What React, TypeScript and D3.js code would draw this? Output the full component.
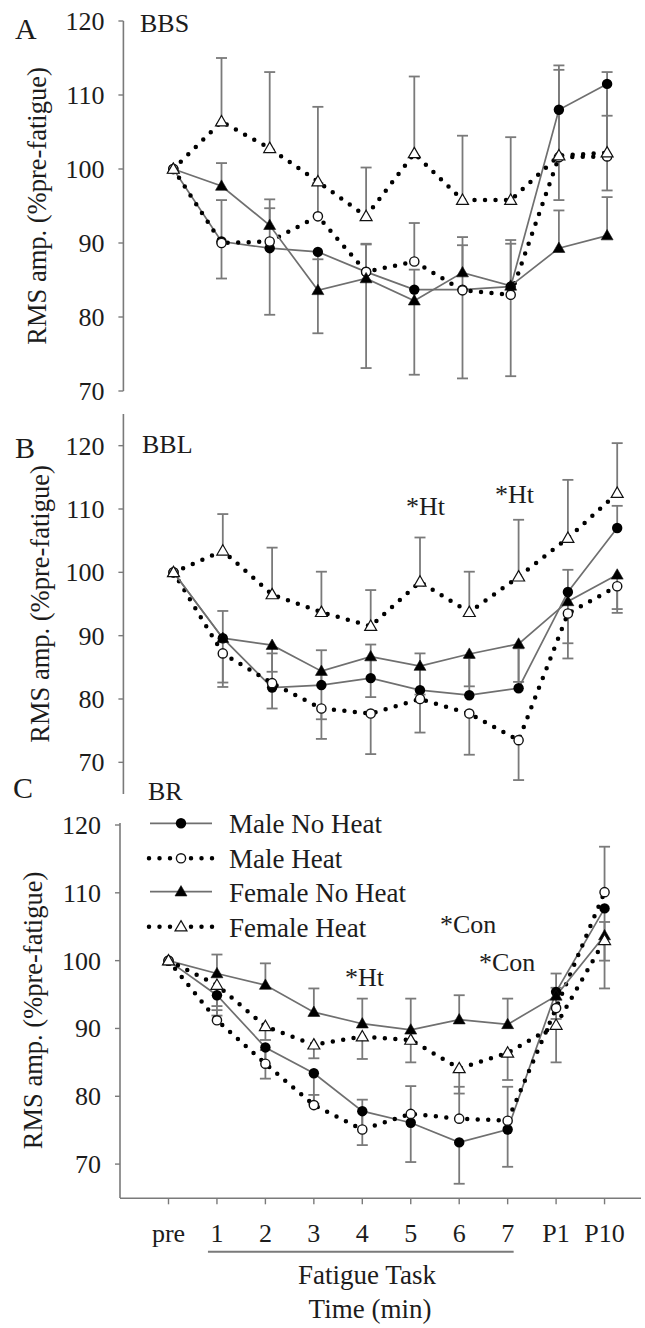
import React from "react";
import * as d3 from "d3";

const categories = ["pre", "1", "2", "3", "4", "5", "6", "7", "P1", "P10"];
const seriesNames = ["Male No Heat", "Male Heat", "Female No Heat", "Female Heat"];
const yTicks = [70, 80, 90, 100, 110, 120];

// Panel A (BBS)
const aMaleNoHeat = [100, 90.2, 89.3, 88.8, 86.1, 83.7, 83.7, 84.1, 108.0, 111.5];
const aMaleNoHeatErr = [0, 5.0, 9.0, 11.0, 13.0, 11.5, 12.0, 12.1, 12.2, 14.4];
const aMaleHeat = [100, 90.0, 90.2, 93.6, 86.1, 87.5, 83.6, 83.0, 101.6, 101.7];
const aMaleHeatErr = [0, 5.8, 4.5, 4.5, 3.8, 5.2, 7.2, 7.4, 11.8, 5.5];
const aFemaleNoHeat = [100, 97.7, 92.4, 83.6, 85.2, 82.2, 86.0, 84.2, 89.3, 91.0];
const aFemaleNoHeatErr = [0, 3.1, 3.5, 4.2, 4.6, 4.2, 3.7, 5.7, 5.1, 5.2];
const aFemaleHeat = [100, 106.4, 102.8, 98.3, 93.6, 102.1, 95.8, 95.8, 101.8, 102.2];
const aFemaleHeatErr = [0, 8.6, 10.3, 10.1, 6.6, 10.4, 8.7, 8.5, 12.2, 10.9];
const aErrDir = [-1, 1, 1, 1];

// Panel B (BBL)
const bMaleNoHeat = [100, 89.6, 81.8, 82.2, 83.3, 81.4, 80.6, 81.7, 96.9, 107.0];
const bMaleNoHeatErr = [0, 4.3, 5.4, 5.5, 5.3, 5.8, 5.9, 6.3, 3.5, 3.5];
const bMaleHeat = [100, 87.2, 82.5, 78.5, 77.7, 80.0, 77.7, 73.5, 93.5, 97.8];
const bMaleHeatErr = [0, 5.3, 4.0, 4.8, 6.4, 5.3, 6.5, 6.3, 7.1, 4.2];
const bFemaleNoHeat = [100, 89.6, 88.5, 84.4, 86.7, 85.2, 87.1, 88.7, 95.4, 99.6];
const bFemaleNoHeatErr = [0, 7.0, 4.2, 7.6, 6.4, 4.5, 5.1, 6.0, 6.6, 5.4];
const bFemaleHeat = [100, 103.4, 96.5, 93.7, 91.5, 98.5, 93.7, 99.3, 105.4, 112.5];
const bFemaleHeatErr = [0, 5.8, 7.4, 6.4, 5.7, 7.0, 6.4, 9.0, 9.2, 7.9];
const bErrDir = [1, -1, -1, 1];

// Panel C (BR)
const cMaleNoHeat = [100, 94.9, 87.2, 83.4, 77.8, 76.1, 73.2, 75.1, 95.4, 107.7];
const cMaleNoHeatErr = [0, 3.0, 4.6, 4.5, 5.0, 5.8, 6.1, 5.5, 4.0, 7.7];
const cMaleHeat = [100, 91.2, 84.8, 78.7, 75.1, 77.4, 76.7, 76.4, 93.0, 110.1];
const cMaleHeatErr = [0, 1.5, 2.0, 1.5, 4.4, 4.1, 4.7, 5.0, 3.0, 6.7];
const cFemaleNoHeat = [100, 98.1, 96.4, 92.4, 90.7, 89.8, 91.3, 90.6, 94.8, 103.7];
const cFemaleNoHeatErr = [0, 2.8, 3.2, 3.5, 3.7, 4.6, 3.6, 3.8, 3.3, 2.0];
const cFemaleHeat = [100, 96.4, 90.3, 87.6, 88.8, 88.3, 84.1, 86.4, 90.5, 103.0];
const cFemaleHeatErr = [0, 3.1, 2.0, 2.0, 3.3, 3.3, 3.7, 4.0, 5.5, 7.1];
const cErrDir = [-1, 1, 1, -1];

const FONT = "'Liberation Serif', 'Times New Roman', serif";
const TEXT = "#1c1c1c";
const GRAY = "#7a7a7a";

const seriesStyle = [
  { dotted: false, marker: "circle", filled: true },
  { dotted: true, marker: "circle", filled: false },
  { dotted: false, marker: "triangle", filled: true },
  { dotted: true, marker: "triangle", filled: false },
];

const panels = [
  {
    letter: "A", title: "BBS", domain: [70, 120], range: [391, 21], axisX: 123.4,
    axisTop: 120, axisBottom: 70, x0: 173.3, step: 48.2,
    data: [aMaleNoHeat, aMaleHeat, aFemaleNoHeat, aFemaleHeat],
    err: [aMaleNoHeatErr, aMaleHeatErr, aFemaleNoHeatErr, aFemaleHeatErr],
    dir: aErrDir, letterPos: [15, 39], titlePos: [140, 32], labelX: 46,
    notes: [] as { t: string; x: number; y: number }[],
  },
  {
    letter: "B", title: "BBL", domain: [65, 125], range: [794, 414], axisX: 123.4,
    axisTop: 125, axisBottom: 65, x0: 173.5, step: 49.3,
    data: [bMaleNoHeat, bMaleHeat, bFemaleNoHeat, bFemaleHeat],
    err: [bMaleNoHeatErr, bMaleHeatErr, bFemaleNoHeatErr, bFemaleHeatErr],
    dir: bErrDir, letterPos: [15, 458], titlePos: [142, 453], labelX: 49,
    notes: [
      { t: "*Ht", x: 406, y: 515 },
      { t: "*Ht", x: 495, y: 503 },
    ],
  },
  {
    letter: "C", title: "BR", domain: [65, 120], range: [1198, 825], axisX: 120,
    axisTop: 120.3, axisBottom: 65, x0: 168.5, step: 48.45,
    data: [cMaleNoHeat, cMaleHeat, cFemaleNoHeat, cFemaleHeat],
    err: [cMaleNoHeatErr, cMaleHeatErr, cFemaleNoHeatErr, cFemaleHeatErr],
    dir: cErrDir, letterPos: [13, 798], titlePos: [148, 800], labelX: 42,
    notes: [
      { t: "*Con", x: 440, y: 933 },
      { t: "*Con", x: 479, y: 971 },
      { t: "*Ht", x: 345, y: 986 },
    ],
  },
];

const triPath = d3.symbol().type(d3.symbolTriangle).size(62)() as string;

function Marker({ x, y, kind, filled }: { x: number; y: number; kind: string; filled: boolean }) {
  if (kind === "circle") {
    return filled ? (
      <circle cx={x} cy={y} r={5.2} fill="#000" />
    ) : (
      <circle cx={x} cy={y} r={4.6} fill="#fff" stroke="#111" strokeWidth={1.4} />
    );
  }
  return (
    <path
      d={triPath}
      transform={`translate(${x},${y + 0.8})`}
      fill={filled ? "#000" : "#fff"}
      stroke="#111"
      strokeWidth={filled ? 0.6 : 1.2}
    />
  );
}

function Panel({ p }: { p: (typeof panels)[number] }) {
  const y = d3.scaleLinear().domain(p.domain).range(p.range);
  const x = d3.scaleLinear().domain([0, categories.length - 1]).range([p.x0, p.x0 + p.step * (categories.length - 1)]);
  const line = d3.line<number>().x((_, i) => x(i)).y((v) => y(v));
  const cy = (y(p.axisTop) + y(p.axisBottom)) / 2;
  return (
    <g>
      <line x1={p.axisX} x2={p.axisX} y1={y(p.axisTop)} y2={y(p.axisBottom)} stroke={GRAY} strokeWidth={1.6} />
      {yTicks.map((t) => (
        <g key={t}>
          <line x1={p.axisX - 5} x2={p.axisX} y1={y(t)} y2={y(t)} stroke={GRAY} strokeWidth={1.4} />
          <text x={p.axisX - 19} y={y(t) + 9} textAnchor="end" fontSize={26} fill={TEXT} fontFamily={FONT}>
            {t}
          </text>
        </g>
      ))}
      <text
        transform={`translate(${p.labelX},${cy}) rotate(-90)`}
        textAnchor="middle"
        fontSize={26.5}
        fill={TEXT}
        fontFamily={FONT}
      >
        RMS amp. (%pre-fatigue)
      </text>
      <text x={p.letterPos[0]} y={p.letterPos[1]} fontSize={30} fill={TEXT} fontFamily={FONT}>
        {p.letter}
      </text>
      <text x={p.titlePos[0]} y={p.titlePos[1]} fontSize={26} fill={TEXT} fontFamily={FONT}>
        {p.title}
      </text>
      {p.data.map((vals, s) =>
        vals.map((v, i) => {
          const e = p.err[s][i];
          if (!e) return null;
          const end = v + p.dir[s] * e;
          return (
            <g key={`e${s}-${i}`} stroke={GRAY} strokeWidth={1.8}>
              <line x1={x(i)} x2={x(i)} y1={y(v)} y2={y(end)} />
              <line x1={x(i) - 5.5} x2={x(i) + 5.5} y1={y(end)} y2={y(end)} />
            </g>
          );
        })
      )}
      {p.data.map((vals, s) => {
        const st = seriesStyle[s];
        return st.dotted ? (
          <path key={`l${s}`} d={line(vals) as string} fill="none" stroke="#000" strokeWidth={4.5}
            strokeDasharray="0 10.5" strokeLinecap="round" strokeLinejoin="round" />
        ) : (
          <path key={`l${s}`} d={line(vals) as string} fill="none" stroke="#6f6f6f" strokeWidth={1.7} />
        );
      })}
      {p.data.map((vals, s) =>
        vals.map((v, i) => (
          <Marker key={`m${s}-${i}`} x={x(i)} y={y(v)} kind={seriesStyle[s].marker} filled={seriesStyle[s].filled} />
        ))
      )}
      {p.notes.map((n, k) => (
        <text key={`n${k}`} x={n.x} y={n.y} fontSize={26} fill={TEXT} fontFamily={FONT}>
          {n.t}
        </text>
      ))}
    </g>
  );
}

function Legend() {
  const rows = [823.3, 858.3, 891.7, 926.7];
  return (
    <g>
      {seriesNames.map((name, s) => {
        const st = seriesStyle[s];
        const yy = rows[s];
        return (
          <g key={name}>
            {st.dotted ? (
              <line x1={149} x2={213} y1={yy} y2={yy} stroke="#000" strokeWidth={4.5} strokeDasharray="0 10.5" strokeLinecap="round" />
            ) : (
              <line x1={150} x2={212} y1={yy} y2={yy} stroke="#6f6f6f" strokeWidth={1.7} />
            )}
            <Marker x={181} y={yy} kind={st.marker} filled={st.filled} />
            <text x={229} y={yy + 10} fontSize={27} fill={TEXT} fontFamily={FONT}>
              {name}
            </text>
          </g>
        );
      })}
    </g>
  );
}

function XAxis() {
  const p = panels[2];
  const x = d3.scaleLinear().domain([0, categories.length - 1]).range([p.x0, p.x0 + p.step * (categories.length - 1)]);
  const y0 = 1198.3;
  return (
    <g>
      <line x1={p.axisX} x2={641} y1={y0} y2={y0} stroke={GRAY} strokeWidth={1.6} />
      {categories.map((c, i) => (
        <g key={c}>
          <line x1={x(i)} x2={x(i)} y1={y0} y2={y0 + 6} stroke={GRAY} strokeWidth={1.4} />
          <text x={x(i)} y={1242} textAnchor="middle" fontSize={26} fill={TEXT} fontFamily={FONT}>
            {c}
          </text>
        </g>
      ))}
      <line x1={x(1) - 9} x2={x(7) + 6} y1={1251.7} y2={1251.7} stroke={GRAY} strokeWidth={2} />
      <text x={367} y={1284} textAnchor="middle" fontSize={27} fill={TEXT} fontFamily={FONT}>
        Fatigue Task
      </text>
      <text x={370} y={1318} textAnchor="middle" fontSize={27} fill={TEXT} fontFamily={FONT}>
        Time (min)
      </text>
    </g>
  );
}

export default function App() {
  return (
    <svg
      width={645}
      height={1328}
      viewBox="0 0 645 1328"
      style={{ position: "absolute", left: 0, top: 0, background: "#fff" }}
    >
      <rect x={0} y={0} width={645} height={1328} fill="#fff" />
      {panels.map((p) => (
        <Panel key={p.letter} p={p} />
      ))}
      <Legend />
      <XAxis />
    </svg>
  );
}
